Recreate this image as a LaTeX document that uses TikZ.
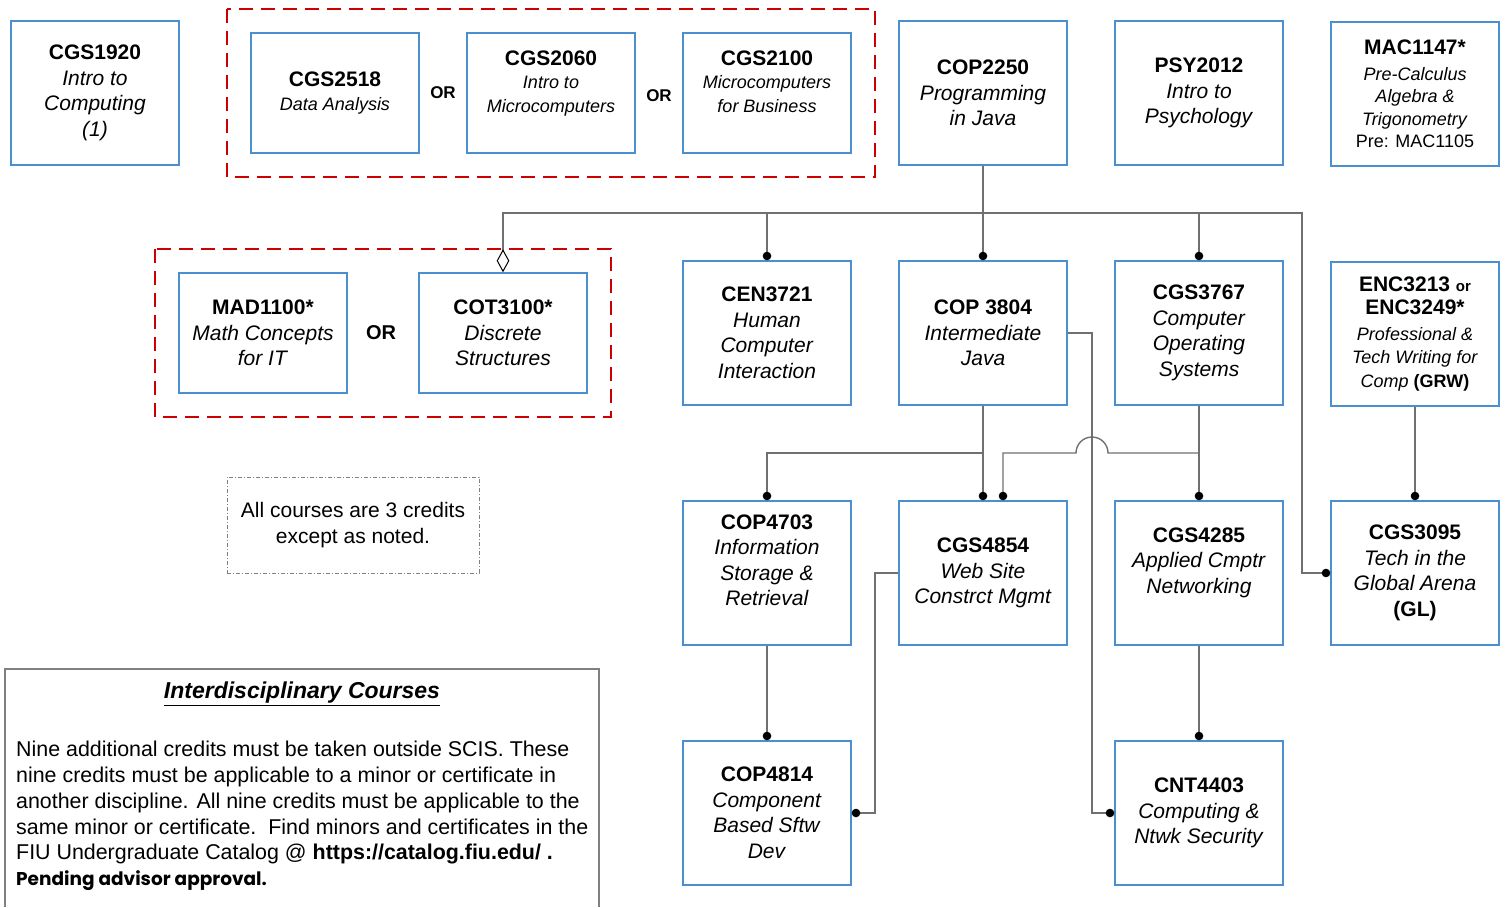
\documentclass[tikz,border=0pt]{standalone}
\usepackage{fontspec}
\setmainfont{Liberation Sans}
\newfontfamily\pendfont{Poppins}
\usetikzlibrary{arrows.meta}
\definecolor{boxblue}{RGB}{74,144,208}
\definecolor{orred}{RGB}{204,0,0}
\definecolor{wire}{RGB}{112,112,112}
\begin{document}
\begin{tikzpicture}[x=1pt,y=-1pt]

\tikzset{course/.style={draw=boxblue,line width=1.5pt,minimum width=168pt,minimum height=144pt,inner sep=0pt,align=center,font=\fontsize{21}{25.5}\selectfont}}
\tikzset{choice/.style={course,minimum height=120pt,font=\fontsize{18}{23.5}\selectfont}}
\tikzset{orlabel/.style={inner sep=0pt,font=\fontsize{17}{20}\selectfont\bfseries}}
\tikzset{orgroup/.style={draw=orred,line width=2.5pt,dash pattern=on 14pt off 8pt}}
\tikzset{dot/.style={wire,line width=1.4pt,-{Circle[length=8.5pt,color=black]}}}
\tikzset{diam/.style={wire,line width=1.4pt,-{Diamond[open,fill=white,length=23pt,width=12.6pt,color=black,line width=1pt]}}}

\useasboundingbox (0,0) rectangle (1506,907);

% or-groups
\draw[orgroup] (227,9) rectangle (875,177);
\draw[orgroup] (155,249) rectangle (611,417);

% top row
\draw (95,93) node[course](cgs1920) {\textbf{CGS1920}\\\textit{Intro to}\\\textit{Computing}\\\textit{(1)}};
\draw (335,93) node[choice](cgs2518) {{\fontsize{21}{23.5}\selectfont\bfseries CGS2518}\\\textit{Data Analysis}};
\draw (443,93) node[orlabel](or1) {OR};
\draw (551,93) node[choice](cgs2060) {{\fontsize{21}{23.5}\selectfont\bfseries CGS2060}\\\textit{Intro to}\\\textit{Microcomputers}\\\mbox{}};
\draw (659,96) node[orlabel](or2) {OR};
\draw (767,93) node[choice](cgs2100) {{\fontsize{21}{23.5}\selectfont\bfseries CGS2100}\\\textit{Microcomputers}\\\textit{for Business}\\\mbox{}};
\draw (983,93) node[course](cop2250) {\textbf{COP2250}\\\textit{Programming}\\\textit{in Java}};
\draw (1199,93) node[course](psy2012) {\textbf{PSY2012}\\\textit{Intro to}\\\textit{Psychology}};
\draw (1415,94) node[course,font=\fontsize{18}{22.5}\selectfont](mac1147) {{\fontsize{21}{22.5}\selectfont\bfseries MAC1147*}\\[3pt]\textit{Pre-Calculus}\\\textit{Algebra \&}\\\textit{Trigonometry}\\Pre: MAC1105};

% second row
\draw (263,333) node[choice,font=\fontsize{21}{25.5}\selectfont](mad1100) {\textbf{MAD1100*}\\\textit{Math Concepts}\\\textit{for IT}};
\draw (381,333) node[orlabel,font=\fontsize{20}{24}\selectfont\bfseries](or3) {OR};
\draw (503,333) node[choice,font=\fontsize{21}{25.5}\selectfont](cot3100) {\textbf{COT3100*}\\\textit{Discrete}\\\textit{Structures}};
\draw (767,333) node[course](cen3721) {\textbf{CEN3721}\\\textit{Human}\\\textit{Computer}\\\textit{Interaction}};
\draw (983,333) node[course](cop3804) {\textbf{COP 3804}\\\textit{Intermediate}\\\textit{Java}};
\draw (1199,333) node[course](cgs3767) {\textbf{CGS3767}\\\textit{Computer}\\\textit{Operating}\\\textit{Systems}};
\draw (1415,334) node[course,font=\fontsize{18}{23.5}\selectfont](enc3213) {{\fontsize{21}{23.5}\selectfont\bfseries ENC3213 {\fontsize{15}{18}\selectfont or}}\\{\fontsize{21}{23.5}\selectfont\bfseries ENC3249*}\\[2pt]\textit{Professional \&}\\\textit{Tech Writing for}\\\textit{Comp} \textbf{(GRW)}};

% third row
\draw (353,525) node[draw=gray,line width=1pt,dash pattern=on 4pt off 2pt on 1pt off 2pt,minimum width=252pt,minimum height=96pt,align=center,font=\fontsize{21}{25.5}\selectfont](note) {All courses are 3 credits\\except as noted.};
\draw (767,573) node[course](cop4703) {\textbf{COP4703}\\\textit{Information}\\\textit{Storage \&}\\\textit{Retrieval}\\\mbox{}};
\draw (983,573) node[course](cgs4854) {\textbf{CGS4854}\\\textit{Web Site}\\\textit{Constrct Mgmt}};
\draw (1199,573) node[course](cgs4285) {\textbf{CGS4285}\\\textit{Applied Cmptr}\\\textit{Networking}\\\mbox{}};
\draw (1415,573) node[course](cgs3095) {\textbf{CGS3095}\\\textit{Tech in the}\\\textit{Global Arena}\\\textbf{(GL)}};

% bottom row
\draw (767,813) node[course](cop4814) {\textbf{COP4814}\\\textit{Component}\\\textit{Based Sftw}\\\textit{Dev}};
\draw (1199,813) node[course](cnt4403) {\textbf{CNT4403}\\\textit{Computing \&}\\\textit{Ntwk Security}};

% interdisciplinary
\draw[gray,line width=1.5pt] (5,907) |- (599,669) -- (599,907);
\draw (302,694) node[inner sep=0pt,font=\fontsize{23}{27}\selectfont\bfseries\itshape](idhead) {\underline{Interdisciplinary Courses}};
\draw (16,741) node[anchor=north west,inner sep=0pt,align=left,font=\fontsize{21.4}{25.8}\selectfont](idtext) {Nine additional credits must be taken outside SCIS. These\\nine credits must be applicable to a minor or certificate in\\another discipline. All nine credits must be applicable to the\\same minor or certificate.\ \ Find minors and certificates in the\\FIU Undergraduate Catalog @ \textbf{https://catalog.fiu.edu/ .}\\{\pendfont\bfseries\fontsize{18.5}{25.8}\selectfont Pending advisor approval.}};

% bend points
\coordinate (bus) at (983,213);
\coordinate (gl) at (1302,213);
\coordinate (j1) at (983,453);
\coordinate (j2) at (1199,453);
\coordinate (hop) at (1108,453);
\coordinate (j3) at (1092,333);
\coordinate (j4) at (875,573);

% connectors
\draw[diam] (cop2250) -- (bus) -| (cot3100);
\draw[dot] (cop2250) -- (bus) -| (cen3721);
\draw[dot] (cop2250) -- (cop3804);
\draw[dot] (cop2250) -- (bus) -| (cgs3767);
\draw[dot] (cop2250) -- (bus) -- (gl) |- (cgs3095);
\draw[dot] (cop3804) -- (j1) -| (cop4703);
\draw[dot] (cop3804) -- (cgs4854);
\draw[dot] (cop3804.east) -- (j3) |- (cnt4403);
\draw[dot] (cgs3767) -- (j2) -- (hop) arc[start angle=0,end angle=180,radius=16pt] -| ([xshift=20pt]cgs4854.north);
\draw[dot] (cgs3767) -- (cgs4285);
\draw[dot] (cgs4854.west) -- (j4) |- (cop4814);
\draw[dot] (cop4703) -- (cop4814);
\draw[dot] (cgs4285) -- (cnt4403);
\draw[dot] (enc3213) -- (cgs3095);

\end{tikzpicture}
\end{document}
